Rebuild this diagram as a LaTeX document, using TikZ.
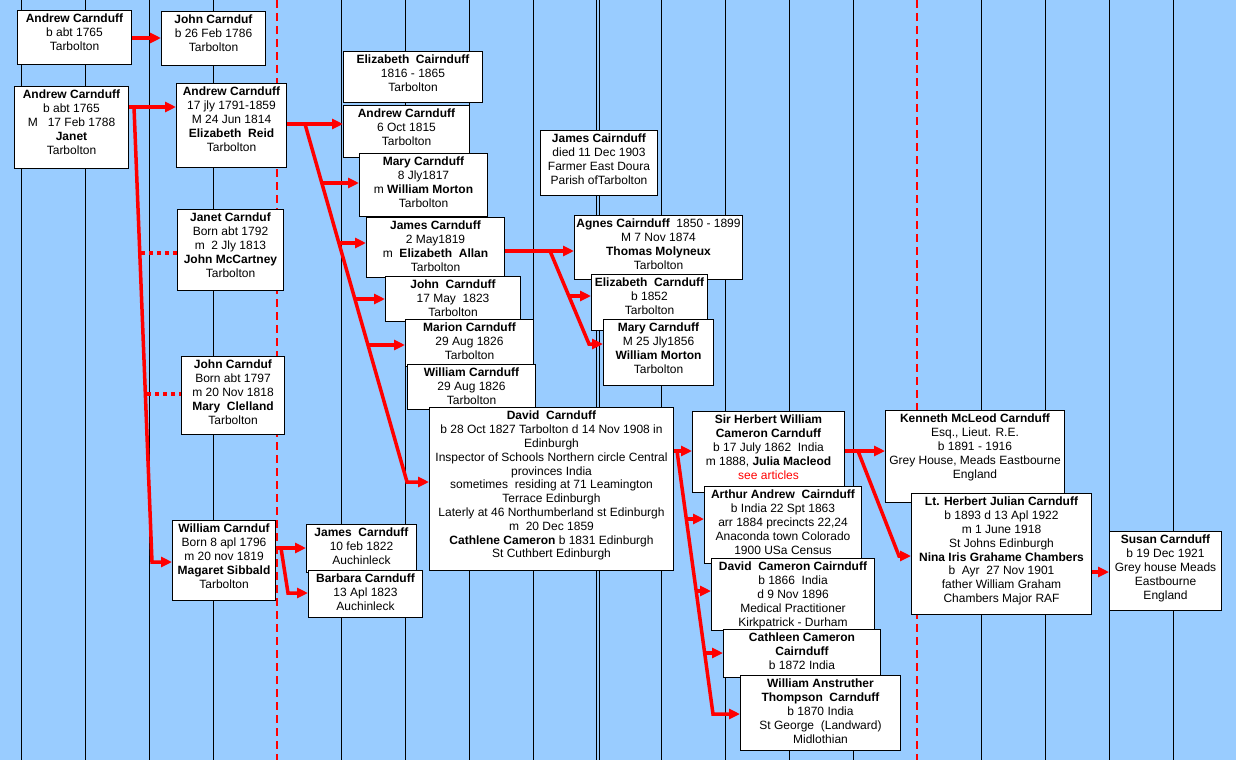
\documentclass[tikz,border=0pt]{standalone}
\usepackage{fontspec}
\setmainfont{Liberation Sans}
\usetikzlibrary{arrows.meta}
\definecolor{bg}{RGB}{153,204,255}
\tikzset{
  box/.style={draw=black, line width=1pt, fill=white, inner sep=0pt, anchor=north west},
  txt/.style={inner sep=0pt, anchor=north, align=center, font=\fontsize{12}{13.8}\selectfont},
  link/.style={draw=red, line width=3.5pt, -{Triangle[length=11pt,width=10pt]}},
  trunk/.style={draw=red, line width=3.5pt},
  dotlink/.style={draw=red, line width=3.5pt, dash pattern=on 4pt off 4pt},
  gridline/.style={draw=black, line width=1pt},
  rdash/.style={draw=red, line width=2pt, dash pattern=on 8pt off 5pt},
}
\newcommand\pbx[6]{%
  \node[box, minimum width=#4pt, minimum height=#5pt] (#1) at (#2,#3) {};
  \node[txt] (#1-t) at ([yshift=-4pt]#1.north) {#6};
}
\begin{document}
\begin{tikzpicture}[x=1pt,y=-1pt]
\useasboundingbox (0,0) rectangle (1236,760);
\fill[bg] (0,0) rectangle (1236,760);
% grid lines
\foreach \gx in {21,85,149,213,341,405,469,533,661,725,789,853,981,1045,1109,1173}
  \draw[gridline] (\gx,0) -- (\gx,760);
\draw[gridline] (596,0) -- (596,760);
\draw[gridline] (599,0) -- (599,760);
\draw[rdash] (277,0) -- (277,760);
\draw[rdash] (917,0) -- (917,760);

% boxes
\pbx{b1}{17}{10}{114}{54}{\textbf{Andrew Carnduff}\\b abt 1765\\Tarbolton}
\pbx{b2}{161}{11}{104}{54}{\textbf{John Carnduf}\\b 26 Feb 1786\\Tarbolton}
\pbx{b3}{14}{86}{114}{82}{\textbf{Andrew Carnduff}\\b abt 1765\\M\ \ \ 17 Feb 1788\\\textbf{Janet}\\Tarbolton}
\pbx{b4}{176}{83}{110}{84}{\textbf{Andrew Carnduff}\\17 jly 1791-1859\\M 24 Jun 1814\\\textbf{Elizabeth\ \ Reid}\\Tarbolton}
\pbx{b5}{177}{209}{106}{81}{\textbf{Janet Carnduf}\\Born abt 1792\\m\ \ 2 Jly 1813\\\textbf{John McCartney}\\Tarbolton}
\pbx{b6}{181}{356}{103}{78}{\textbf{John Carnduf}\\Born abt 1797\\m 20 Nov 1818\\\textbf{Mary\ \ Clelland}\\Tarbolton}
\pbx{b7}{172}{520}{103}{80}{\textbf{William Carnduf}\\Born 8 apl 1796\\m 20 nov 1819\\\textbf{Magaret Sibbald}\\Tarbolton}
\pbx{b8}{306}{524}{110}{48}{\textbf{James\ \ Carnduff}\\10 feb 1822\\Auchinleck}
\pbx{b9}{308}{570}{114}{47}{\textbf{Barbara Carnduff}\\13 Apl 1823\\Auchinleck}
\pbx{b10}{343}{51}{139}{51}{\textbf{Elizabeth\ \ Cairnduff}\\1816 - 1865\\Tarbolton}
\pbx{b11}{343}{105}{126}{52}{\textbf{Andrew Carnduff}\\6 Oct 1815\\Tarbolton}
\pbx{b12}{359}{153}{128}{63}{\textbf{Mary Carnduff}\\8 Jly1817\\m \textbf{William Morton}\\Tarbolton}
\pbx{b13}{366}{217}{138}{60}{\textbf{James Carnduff}\\2 May1819\\m\ \ \textbf{Elizabeth\ \ Allan}\\Tarbolton}
\pbx{b14}{385}{276}{135}{45}{\textbf{John\ \ Carnduff}\\17 May\ \ 1823\\Tarbolton}
\pbx{b15}{405}{319}{128}{47}{\textbf{Marion Carnduff}\\29 Aug 1826\\Tarbolton}
\pbx{b16}{407}{364}{128}{45}{\textbf{William Carnduff}\\29 Aug 1826\\Tarbolton}
\pbx{b17}{429}{407}{244}{163}{\textbf{David\ \ Carnduff}\\b 28 Oct 1827 Tarbolton d 14 Nov 1908 in\\Edinburgh\\Inspector of Schools Northern circle Central\\provinces India\\sometimes\ \ residing at 71 Leamington\\Terrace Edinburgh\\Laterly at 46 Northumberland st Edinburgh\\m\ \ 20 Dec 1859\\\textbf{Cathlene Cameron} b 1831 Edinburgh\\St Cuthbert Edinburgh}
\pbx{b18}{540}{130}{117}{65}{\textbf{James Cairnduff}\\died 11 Dec 1903\\Farmer East Doura\\Parish ofTarbolton}
\pbx{b19}{574}{215}{168}{64}{\textbf{Agnes Cairnduff}\ \ 1850 - 1899\\M 7 Nov 1874\\\textbf{Thomas Molyneux}\\Tarbolton}
\pbx{b20}{591}{274}{116}{56}{\textbf{Elizabeth\ \ Carnduff}\\b 1852\\Tarbolton}
\pbx{b21}{603}{319}{110}{66}{\textbf{Mary Carnduff}\\M 25 Jly1856\\\textbf{William Morton}\\Tarbolton}
\pbx{b22}{692}{411}{152}{81}{\textbf{Sir Herbert William}\\\textbf{Cameron Carnduff}\\b 17 July 1862\ \ India\\m 1888, \textbf{Julia Macleod}\\\textcolor{red}{see articles}}
\pbx{b23}{704}{486}{157}{77}{\textbf{Arthur Andrew\ \ Cairnduff}\\b India 22 Spt 1863\\arr 1884 precincts 22,24\\Anaconda town Colorado\\1900 USa Census}
\pbx{b24}{711}{558}{163}{72}{\textbf{David\ \ Cameron Cairnduff}\\b 1866\ \ India\\d 9 Nov 1896\\Medical Practitioner\\Kirkpatrick - Durham}
\pbx{b25}{723}{629}{157}{48}{\textbf{Cathleen Cameron}\\\textbf{Cairnduff}\\b 1872 India}
\pbx{b26}{740}{675}{160}{75}{\textbf{William Anstruther}\\\textbf{Thompson\ \ Carnduff}\\b 1870 India\\St George\ \ (Landward)\\Midlothian}
\pbx{b27}{885}{410}{179}{92}{\textbf{Kenneth McLeod Carnduff}\\Esq., Lieut. R.E.\\b 1891 - 1916\\Grey House, Meads Eastbourne\\England}
\pbx{b28}{911}{493}{180}{121}{\textbf{Lt. Herbert Julian Carnduff}\\b 1893 d 13 Apl 1922\\m 1 June 1918\\St Johns Edinburgh\\\textbf{Nina Iris Grahame Chambers}\\b\ \ Ayr\ \ 27 Nov 1901\\father William Graham\\Chambers Major RAF}
\pbx{b29}{1109}{531}{112}{79}{\textbf{Susan Carnduff}\\b 19 Dec 1921\\Grey house Meads\\Eastbourne\\England}

% junction coordinates
\coordinate (j1) at (134,107);
\coordinate (j1b) at (152,562);
\coordinate (d1) at (141,253);
\coordinate (d2) at (147,394);
\coordinate (j4) at (305,124);
\coordinate (j4b) at (407,482);
\coordinate (k12) at (321.8,183);
\coordinate (k13) at (338.9,243);
\coordinate (k14) at (354.9,299);
\coordinate (k15) at (368,345);
\coordinate (j7) at (281,548);
\coordinate (j7b) at (288,593);
\coordinate (j13) at (550,251);
\coordinate (j13b) at (589,344);
\coordinate (k20) at (569,296);
\coordinate (j17) at (677,451);
\coordinate (j17b) at (713,714);
\coordinate (k23) at (686.3,519);
\coordinate (k24) at (696.2,591);
\coordinate (k25) at (704.6,653);
\coordinate (j22) at (858,451);
\coordinate (j22b) at (899,556);

% connectors
\draw[link] (b1.east |- 0,38) -- (b2.west |- 0,38);
\draw[link] (b3.east |- 0,107) -- (b4.west |- 0,107);
\draw[link] (j1) -- (j1b) -- (b7.west |- 0,562);
\draw[dotlink] (d1) -- (b5.west |- 0,253);
\draw[dotlink] (d2) -- (b6.west |- 0,394);

\draw[link] (b4.east |- 0,124) -- (b11.west |- 0,124);
\draw[link] (j4) -- (j4b) -- (b17.west |- 0,482);
\draw[link] (k12) -- (b12.west |- 0,183);
\draw[link] (k13) -- (b13.west |- 0,243);
\draw[link] (k14) -- (b14.west |- 0,299);
\draw[link] (k15) -- (b15.west |- 0,345);

\draw[link] (b7.east |- 0,548) -- (b8.west |- 0,548);
\draw[link] (j7) -- (j7b) -- (b9.west |- 0,593);

\draw[link] (b13.east |- 0,251) -- (b19.west |- 0,251);
\draw[link] (j13) -- (j13b) -- (b21.west |- 0,344);
\draw[link] (k20) -- (b20.west |- 0,296);

\draw[link] (b17.east |- 0,451) -- (b22.west |- 0,451);
\draw[link] (j17) -- (j17b) -- (b26.west |- 0,714);
\draw[link] (k23) -- (b23.west |- 0,519);
\draw[link] (k24) -- (b24.west |- 0,591);
\draw[link] (k25) -- (b25.west |- 0,653);

\draw[link] (b22.east |- 0,451) -- (b27.west |- 0,451);
\draw[link] (j22) -- (j22b) -- (b28.west |- 0,556);

\draw[link] (b28.east |- 0,572) -- (b29.west |- 0,572);
\end{tikzpicture}
\end{document}
